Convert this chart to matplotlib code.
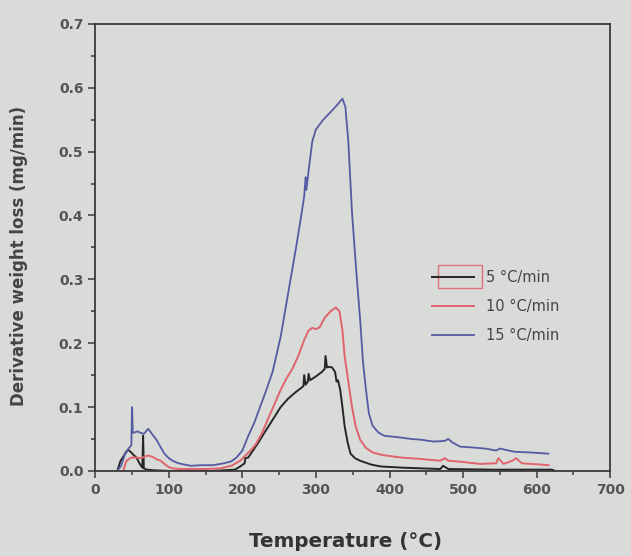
import matplotlib
matplotlib.use("Agg")
import matplotlib.pyplot as plt
from matplotlib.patches import Rectangle

# 5 C/min
t5 = [30, 34, 38, 42, 45, 48, 52, 56, 60, 64, 65, 66, 70, 80, 100, 130, 160, 190, 197, 203,
      204, 208, 215, 222, 230, 240, 252, 262, 272, 280, 283, 284, 286, 289, 290, 292, 300, 308, 312, 313,
      315, 318, 322, 326, 328, 330, 333, 336, 339, 343, 347, 353, 360, 375, 388, 420, 469, 473, 480, 540,
      600, 621, 625]
d5 = [0.0, 0.015, 0.022, 0.03, 0.033, 0.03, 0.025, 0.021, 0.012, 0.005, 0.055, 0.004, 0.002, 0.001, 0.0, 0.0, 0.0, 0.002, 0.007, 0.012,
      0.02, 0.021, 0.033, 0.045, 0.06, 0.078, 0.10, 0.113, 0.123, 0.13, 0.133, 0.15, 0.135, 0.14, 0.152, 0.142, 0.148, 0.155, 0.16, 0.18,
      0.162, 0.163, 0.162, 0.155, 0.14, 0.142, 0.127, 0.1, 0.07, 0.045, 0.027, 0.02, 0.016, 0.01, 0.007, 0.005, 0.003, 0.008, 0.003, 0.002,
      0.002, 0.002, 0.0]

# 10 C/min
t10 = [38, 42, 46, 50, 56, 62, 68, 72, 78, 84, 89, 95, 100, 105, 115, 130, 150, 170, 185, 197,
       205, 212, 219, 227, 235, 243, 252, 260, 268, 276, 284, 290, 295, 300, 305, 312, 320, 327, 332, 336,
       339, 344, 349, 354, 360, 368, 377, 390, 415, 440, 469, 475, 480, 500, 523, 545, 548, 555, 567, 572,
       580, 605, 616]
d10 = [0.0, 0.015, 0.019, 0.021, 0.021, 0.02, 0.023, 0.024, 0.022, 0.018, 0.016, 0.01, 0.006, 0.004, 0.003, 0.003, 0.003, 0.004, 0.008, 0.016,
       0.025, 0.033, 0.043, 0.06, 0.082, 0.103, 0.127, 0.145, 0.16, 0.18, 0.205, 0.22, 0.224, 0.222, 0.225, 0.24, 0.25, 0.256, 0.25, 0.22,
       0.18, 0.14, 0.10, 0.07, 0.049, 0.036, 0.029, 0.025, 0.021, 0.019, 0.016, 0.02, 0.016, 0.014, 0.011, 0.012, 0.02, 0.011, 0.016, 0.02,
       0.012, 0.01, 0.009]

# 15 C/min
t15 = [30, 35, 40, 45, 49, 50, 51, 53, 57, 61, 66, 72, 77, 83, 89, 94, 100, 105, 113, 121,
       130, 143, 160, 175, 185, 192, 200, 208, 216, 224, 232, 241, 252, 262, 273, 280, 284, 286, 287, 290,
       295, 300, 310, 320, 328, 336, 340, 344, 349, 355, 360, 364, 368, 372, 377, 385, 393, 410, 430, 442,
       460, 475, 480, 485, 496, 510, 530, 545, 550, 570, 590, 605, 616]
d15 = [0.0, 0.008, 0.025, 0.035, 0.04, 0.10, 0.06, 0.06, 0.062, 0.06, 0.058, 0.066, 0.058, 0.049, 0.037, 0.027, 0.02, 0.016, 0.012, 0.01,
       0.008, 0.009, 0.009, 0.012, 0.015, 0.021, 0.032, 0.055, 0.075, 0.10, 0.125, 0.155, 0.21, 0.277, 0.35, 0.40, 0.43, 0.46, 0.44, 0.47,
       0.516, 0.535, 0.55, 0.562, 0.572, 0.583, 0.57, 0.516, 0.405, 0.31, 0.238, 0.17, 0.127, 0.09, 0.071, 0.06, 0.055, 0.053, 0.05, 0.049,
       0.046, 0.047, 0.05, 0.045, 0.038, 0.037, 0.035, 0.032, 0.035, 0.03, 0.029, 0.028, 0.027]

labels = ["5 \u00b0C/min", "10 \u00b0C/min", "15 \u00b0C/min"]
xticks = [0, 100, 200, 300, 400, 500, 600, 700]
yticks = [0.0, 0.1, 0.2, 0.3, 0.4, 0.5, 0.6, 0.7]

bg = "#d8dbd7"
ink = "#3a3a3a"

fig = plt.figure(figsize=(6.31, 5.56), dpi=100, facecolor=bg)
ax = fig.add_axes([0.151, 0.153, 0.816, 0.804], facecolor=bg)

ax.plot(t5, d5, color="#262626", lw=1.4, label=labels[0])
ax.plot(t10, d10, color="#e0636e", lw=1.4, label=labels[1])
ax.plot(t15, d15, color="#555ba3", lw=1.3, label=labels[2])

ax.set_xlim(0, 700)
ax.set_ylim(0, 0.7)
ax.set_xticks(xticks)
ax.set_yticks(yticks)
ax.set_xticks(range(50, 700, 100), minor=True)
ax.set_yticks([0.05, 0.15, 0.25, 0.35, 0.45, 0.55, 0.65], minor=True)
ax.set_yticklabels(["%.1f" % v for v in yticks])

for s in ax.spines.values():
    s.set_color(ink)
    s.set_linewidth(1.3)
ax.tick_params(which="both", direction="out", colors=ink, width=1.1)
ax.tick_params(which="major", length=5, labelsize=10)
ax.tick_params(which="minor", length=3)
for lab in ax.get_xticklabels() + ax.get_yticklabels():
    lab.set_fontweight("bold")
    lab.set_color("#555555")

ax.set_xlabel("Temperature (\u00b0C)", fontsize=14.3, fontweight="bold", color="#333333")
ax.xaxis.set_label_coords(0.487, -0.137)
ax.set_ylabel("Derivative weight loss (mg/min)", fontsize=12, fontweight="bold", color="#444444")
ax.yaxis.set_label_coords(-0.13, 0.48)

leg = ax.legend(loc="upper left", bbox_to_anchor=(0.648, 0.456), frameon=False,
                fontsize=10.5, handlelength=2.9, labelspacing=0.95, handletextpad=0.8,
                borderaxespad=0, borderpad=0.2)
for t in leg.get_texts():
    t.set_color("#444444")

# red box drawn around the first legend handle
ax.add_patch(Rectangle((0.666, 0.409), 0.085, 0.052, transform=ax.transAxes,
                       fill=False, edgecolor="#e0707a", lw=1.0))

fig.savefig("out.png", dpi=100, facecolor=bg)
